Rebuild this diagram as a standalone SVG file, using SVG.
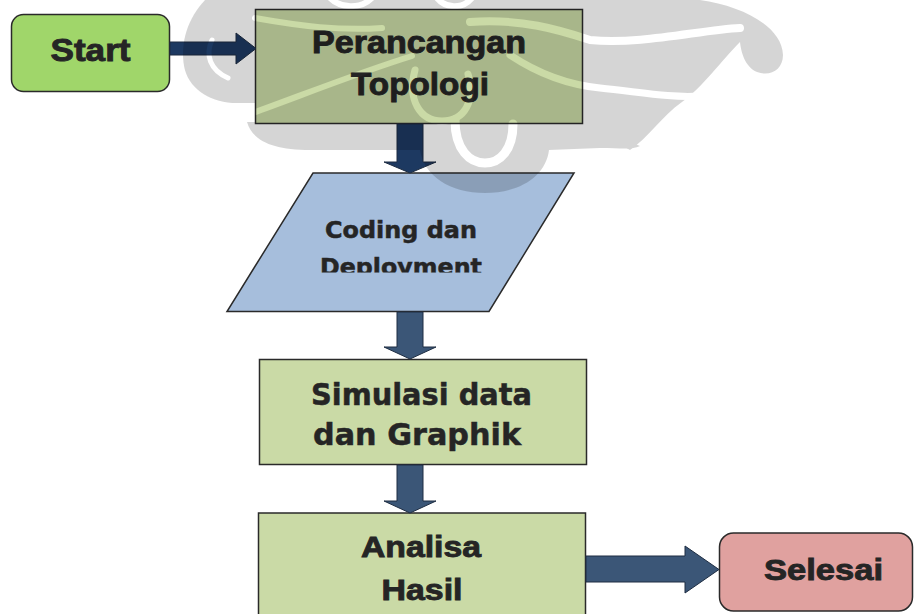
<svg xmlns="http://www.w3.org/2000/svg" width="916" height="614" viewBox="0 0 916 614">
<style>
.box{stroke:#2a2a2a;stroke-width:1.5}
.green{fill:#cadaa6}
.arrow{fill:#3b5677;stroke:#1e2d42;stroke-width:1}
.dark{fill:#1d3961}
.t{font-family:"Liberation Sans",Arial,sans-serif;font-weight:bold;fill:#252525;stroke:#252525;stroke-width:0.9;text-anchor:middle}
.w{font-family:"DejaVu Sans","Liberation Sans",sans-serif;font-weight:bold;fill:#252525;stroke:#252525;stroke-width:0.5;text-anchor:middle}
</style>
<defs>
<clipPath id="clipCoding"><rect x="220" y="170" width="360" height="102.5"/></clipPath>
<mask id="wm" maskUnits="userSpaceOnUse" x="0" y="0" width="916" height="614">
<g fill="#fff">
<path d="M256,0 L205,0 C188,18 180,42 184,66 C188,88 208,101 232,103 L256,103 Z"/>
<rect x="255" y="0" width="330" height="125"/>
<path d="M247,122 C252,140 272,150 310,150 L420,150 C424,176 450,193 485,193 C520,193 546,176 549,150 L600,148 C620,148 632,150 640,146 C620,138 600,130 583,122 Z"/>
<path d="M583,0 L700,0 C742,6 782,26 783,55 C783,70 770,77 757,72 C745,67 741,52 740,42 C722,60 702,88 682,102 C662,116 648,138 630,150 L583,124 Z"/>
</g>
<g fill="none" stroke="#000" stroke-linecap="round">
<path d="M455,120 C455,150 470,163 485,163 C500,163 513,150 513,124" stroke-width="9"/>
<path d="M415,70 C407,100 420,121 442,121 C465,121 476,100 468,74" stroke-width="7"/>
<path d="M250,114 C300,96 360,72 412,56" stroke-width="6"/>
<path d="M255,18 C300,26 340,31 382,28" stroke-width="6"/>
<path d="M470,22 C520,18 560,30 590,40 C640,45 700,30 740,28" stroke-width="8"/>
<path d="M510,55 C540,75 570,85 600,88 C640,92 670,98 700,96" stroke-width="7"/>
<path d="M330,-2 C340,8 360,10 372,-2" stroke-width="6"/>
<path d="M437,-2 C445,8 462,10 472,-2" stroke-width="6"/>
<path d="M212,40 C205,55 210,70 228,78" stroke-width="5"/>
</g>
</mask>
</defs>
<rect width="916" height="614" fill="#fff"/>

<g id="node-start">
<rect class="box" x="11.5" y="14.5" width="158" height="77" rx="12" fill="#a0d66a"/>
<text class="t" x="90.5" y="61" font-size="31" textLength="80" lengthAdjust="spacingAndGlyphs">Start</text>
</g>

<g id="node-perancangan">
<rect class="box green" x="255.5" y="9.5" width="327" height="114"/>
<text class="t" x="419" y="53" font-size="31" textLength="214" lengthAdjust="spacingAndGlyphs">Perancangan</text>
<text class="t" x="420" y="95" font-size="31" textLength="138" lengthAdjust="spacingAndGlyphs">Topologi</text>
</g>

<g id="node-coding">
<polygon class="box" points="313,173 574,173 489,311.5 227,311.5" fill="#a6bedc"/>
<g clip-path="url(#clipCoding)">
<text class="w" x="401" y="238" font-size="23" textLength="152" lengthAdjust="spacingAndGlyphs">Coding dan</text>
<text class="w" x="401" y="274.5" font-size="23" textLength="162" lengthAdjust="spacingAndGlyphs">Deployment</text>
</g>
</g>

<g id="node-simulasi">
<rect class="box green" x="259.5" y="359.5" width="327" height="105"/>
<text class="w" x="421.5" y="405" font-size="31" textLength="221" lengthAdjust="spacingAndGlyphs">Simulasi data</text>
<text class="w" x="417" y="445" font-size="31" textLength="208" lengthAdjust="spacingAndGlyphs">dan Graphik</text>
</g>

<g id="node-analisa">
<rect class="box green" x="258.5" y="513" width="327" height="120"/>
<text class="t" x="421" y="557" font-size="30" textLength="120" lengthAdjust="spacingAndGlyphs">Analisa</text>
<text class="t" x="422" y="600" font-size="30" textLength="81" lengthAdjust="spacingAndGlyphs">Hasil</text>
</g>

<g id="node-selesai">
<rect class="box" x="719.5" y="533" width="193" height="78" rx="14" fill="#e0a19f"/>
<text class="t" x="823.5" y="580" font-size="30" textLength="119" lengthAdjust="spacingAndGlyphs">Selesai</text>
</g>

<g id="connectors">
<polygon class="arrow dark" points="170,42 236,42 236,33 256,48.5 236,64 236,55 170,55"/>
<polygon class="arrow dark" points="397,124 423,124 423,162 436,162 410,173 384,162 397,162"/>
<polygon class="arrow" points="397,312 423,312 423,347 436,347 410,359 384,347 397,347"/>
<polygon class="arrow" points="397,465 423,465 423,501 436,501 410,513 384,501 397,501"/>
<polygon class="arrow" points="586,556 685,556 685,546 719,569.5 685,593 685,582 586,582"/>
</g>

<g id="watermark">
<rect x="0" y="0" width="916" height="220" fill="#000" opacity="0.16" mask="url(#wm)"/>
</g>
</svg>
